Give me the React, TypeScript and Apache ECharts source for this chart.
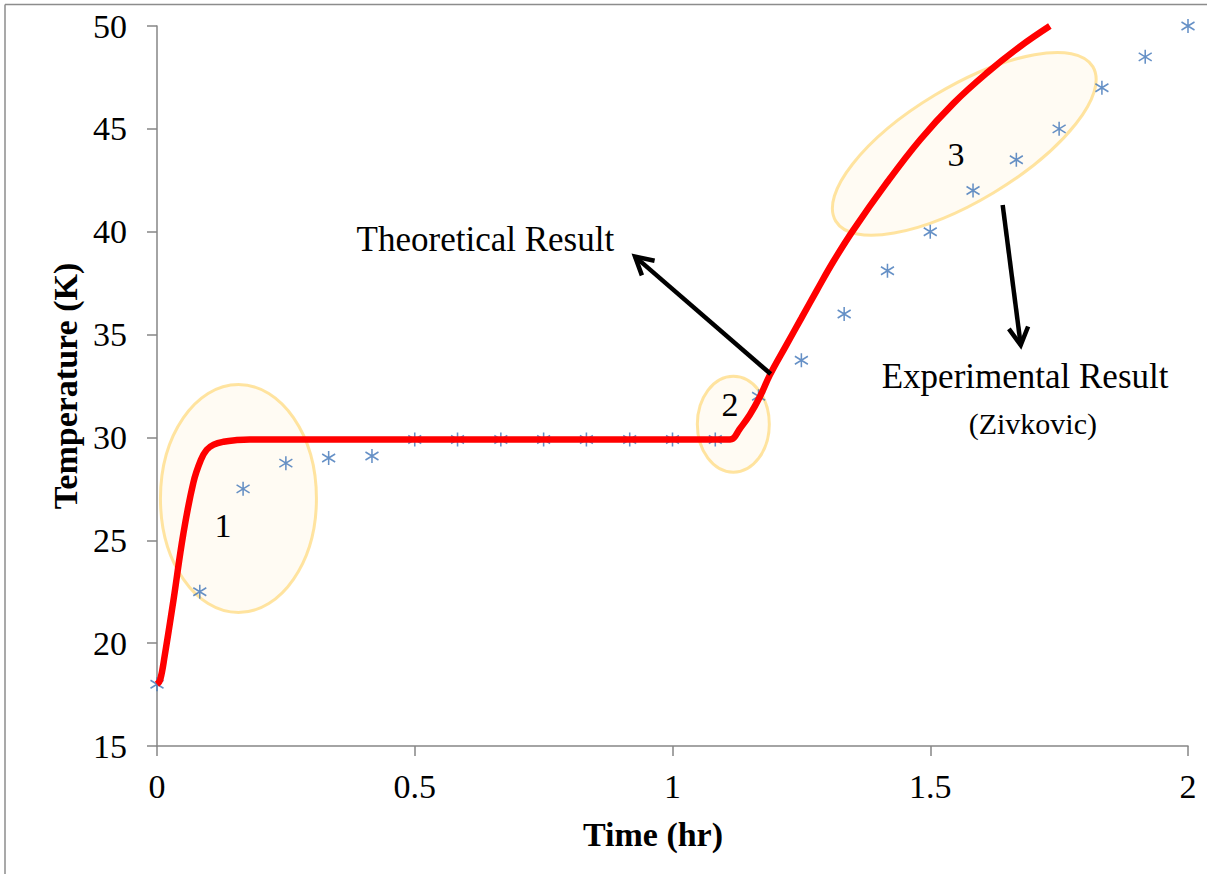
import React, { useEffect, useRef } from "react";
import * as echarts from "echarts";

// Experimental result (Zivkovic): time (hr) and temperature (K)
const expTime = [0, 0.083, 0.167, 0.25, 0.333, 0.417, 0.5, 0.583, 0.667, 0.75, 0.833, 0.917, 1, 1.083, 1.167, 1.25, 1.333, 1.417, 1.5, 1.583, 1.667, 1.75, 1.833, 1.917, 2];
const expTemp = [18, 22.5, 27.5, 28.75, 29.0, 29.1, 29.9, 29.9, 29.9, 29.9, 29.9, 29.9, 29.9, 29.9, 32.0, 33.75, 36.0, 38.1, 40.0, 42.0, 43.5, 45.0, 47.0, 48.5, 50.0];

// Theoretical result
const theoTime = [0, 0.006, 0.015, 0.032, 0.051, 0.0705, 0.085, 0.0964, 0.11, 0.129, 0.155, 0.18, 0.5, 1.0, 1.105, 1.115, 1.13, 1.15, 1.17, 1.189, 1.22, 1.25, 1.28, 1.312, 1.351, 1.415, 1.48, 1.545, 1.609, 1.674, 1.732];
const theoTemp = [18, 18.2, 19.4, 22.1, 25.3, 27.8, 28.9, 29.4, 29.65, 29.79, 29.87, 29.9, 29.9, 29.9, 29.9, 29.92, 30.4, 31.1, 32.0, 33.04, 34.45, 35.8, 37.15, 38.55, 40.09, 42.36, 44.46, 46.24, 47.7, 49.0, 50.0];

const xTicks = ["0", "0.5", "1", "1.5", "2"];

// Annotations in data coordinates
const annoTexts = [
  { text: "Theoretical Result", x: 0.637, y: 39.6, size: 35 },
  { text: "Experimental Result", x: 1.684, y: 32.94, size: 35 },
  { text: "(Zivkovic)", x: 1.699, y: 30.7, size: 30 },
  { text: "1", x: 0.128, y: 25.7, size: 34 },
  { text: "2", x: 1.1115, y: 31.58, size: 34 },
  { text: "3", x: 1.55, y: 43.73, size: 34 },
];
const annoEllipses = [
  { x: 0.158, y: 27.03, rx: 78, ry: 114, rot: 0 },
  { x: 1.118, y: 30.64, rx: 36, ry: 48, rot: 0 },
  { x: 1.566, y: 44.27, rx: 150, ry: 57, rot: 31 },
];
const annoArrows = [
  { x1: 1.1905, y1: 33.08, x2: 0.9273, y2: 38.79 },
  { x1: 1.6405, y1: 41.3, x2: 1.6755, y2: 34.49 },
];

const FONT = "Liberation Serif";

export default function App() {
  const ref = useRef<HTMLDivElement>(null);
  useEffect(() => {
    document.body.style.margin = "0";
    const chart = echarts.init(ref.current!, null, { renderer: "svg" });
    const grid = { left: 157, top: 26, right: 19, bottom: 128 };
    chart.setOption({
      animation: false,
      backgroundColor: "#ffffff",
      grid,
      xAxis: {
        type: "value",
        min: 0,
        max: 2,
        interval: 0.5,
        name: "Time (hr)",
        nameLocation: "middle",
        nameGap: 71,
        nameTextStyle: { fontFamily: FONT, fontSize: 34, fontWeight: "bold", color: "#000", padding: [0, 39, 0, 0] },
        axisLine: { show: true, onZero: false, lineStyle: { color: "#868686", width: 1.5 } },
        axisTick: { show: true, length: 10, lineStyle: { color: "#868686", width: 1.5 } },
        splitLine: { show: false },
        axisLabel: {
          fontFamily: FONT,
          fontSize: 34,
          color: "#000",
          margin: 23,
          formatter: (v: number) => {
            const i = Math.round(v / 0.5);
            return xTicks[i] ?? String(v);
          },
        },
      },
      yAxis: {
        type: "value",
        min: 15,
        max: 50,
        interval: 5,
        name: "Temperature (K)",
        nameLocation: "middle",
        nameGap: 70,
        nameRotate: 90,
        nameTextStyle: { fontFamily: FONT, fontSize: 34, fontWeight: "bold", color: "#000" },
        axisLine: { show: true, onZero: false, lineStyle: { color: "#868686", width: 1.5 } },
        axisTick: { show: true, length: 10, lineStyle: { color: "#868686", width: 1.5 } },
        splitLine: { show: false },
        axisLabel: { fontFamily: FONT, fontSize: 34, color: "#000", margin: 30 },
      },
      series: [
        {
          type: "scatter",
          name: "Experimental",
          data: expTime.map((t, i) => [t, expTemp[i]]),
          symbol: "path://M6 0 L6 14 M0 3 L12 11 M0 11 L12 3",
          symbolSize: [13, 14],
          itemStyle: { color: "rgba(0,0,0,0)", borderColor: "#3F74B8", borderWidth: 1.6 },
          z: 3,
        },
        {
          type: "line",
          name: "Theoretical",
          data: theoTime.map((t, i) => [t, theoTemp[i]]),
          showSymbol: false,
          symbol: "none",
          smooth: 0.4,
          lineStyle: { color: "#FF0000", width: 6.5 },
          z: 4,
        },
      ],
    });

    const px = (x: number, y: number) => chart.convertToPixel({ gridIndex: 0 }, [x, y]) as number[];
    const graphics: any[] = [];
    // outer frame
    graphics.push({ type: "line", shape: { x1: 5, y1: 4.5, x2: 1207, y2: 4.5 }, style: { stroke: "#8c8c8c", lineWidth: 1.5 }, z: 1 });
    graphics.push({ type: "line", shape: { x1: 5, y1: 4.5, x2: 5, y2: 874 }, style: { stroke: "#8c8c8c", lineWidth: 1.5 }, z: 1 });
    annoEllipses.forEach((e) => {
      const [cx, cy] = px(e.x, e.y);
      graphics.push({
        type: "ellipse",
        x: cx,
        y: cy,
        rotation: (e.rot * Math.PI) / 180,
        shape: { cx: 0, cy: 0, rx: e.rx, ry: e.ry },
        style: { fill: "rgba(255,238,200,0.22)", stroke: "rgba(255,214,110,0.65)", lineWidth: 3 },
        z: 1,
      });
    });
    annoArrows.forEach((a) => {
      const [x1, y1] = px(a.x1, a.y1);
      const [x2, y2] = px(a.x2, a.y2);
      const ang = Math.atan2(y1 - y2, x1 - x2);
      const h = 20;
      const spread = (29 * Math.PI) / 180;
      graphics.push({ type: "line", shape: { x1, y1, x2, y2 }, style: { stroke: "#000", lineWidth: 4.5 }, z: 100 });
      graphics.push({
        type: "polyline",
        shape: {
          points: [
            [x2 + h * Math.cos(ang + spread), y2 + h * Math.sin(ang + spread)],
            [x2, y2],
            [x2 + h * Math.cos(ang - spread), y2 + h * Math.sin(ang - spread)],
          ],
        },
        style: { stroke: "#000", lineWidth: 4.5, fill: null, lineJoin: "miter" },
        z: 100,
      });
    });
    annoTexts.forEach((t) => {
      const [x, y] = px(t.x, t.y);
      graphics.push({
        type: "text",
        x,
        y,
        style: { text: t.text, fontFamily: FONT, fontSize: t.size, fill: "#000", align: "center", verticalAlign: "middle" },
        z: 100,
      });
    });
    chart.setOption({ graphic: graphics });
    return () => chart.dispose();
  }, []);
  return <div ref={ref} style={{ width: 1207, height: 874 }} />;
}
